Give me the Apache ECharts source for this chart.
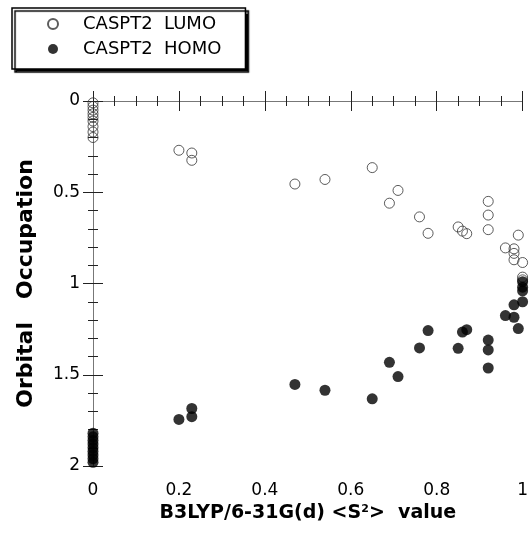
<!DOCTYPE html>
<html><head><meta charset="utf-8">
<script src="https://cdn.jsdelivr.net/npm/echarts@6/dist/echarts.min.js"></script>
<style>html,body{margin:0;padding:0;background:#fff}#c{width:531px;height:536px}</style>
</head><body><div id="c"></div>
<script>
// Data
const lumoX = [0,0,0,0,0,0,0,0,0, 0.20,0.23,0.23,0.47,0.54,0.65,0.69,0.71,0.76,0.78,0.85,0.86,0.87,0.92,0.92,0.92,0.96,0.98,0.98,0.98,0.99,1.0,1.0,1.0];
const lumoY = [0.01,0.03,0.05,0.07,0.09,0.11,0.14,0.17,0.20, 0.27,0.285,0.325,0.455,0.43,0.365,0.56,0.49,0.635,0.725,0.69,0.713,0.727,0.55,0.625,0.705,0.805,0.81,0.835,0.87,0.735,0.885,0.965,0.98];
const homoX = [0,0,0,0,0,0,0,0,0, 0.20,0.23,0.23,0.47,0.54,0.65,0.69,0.71,0.76,0.78,0.85,0.86,0.87,0.92,0.92,0.92,0.96,0.98,0.98,0.99,1.0,1.0,1.0,1.0];
const homoY = [1.82,1.84,1.86,1.88,1.90,1.92,1.94,1.96,1.98, 1.745,1.685,1.73,1.553,1.585,1.632,1.432,1.51,1.353,1.258,1.355,1.266,1.253,1.31,1.364,1.463,1.176,1.117,1.185,1.247,1.10,0.99,1.02,1.04];
const seriesNames = ['CASPT2  LUMO', 'CASPT2  HOMO'];
const xTitle = 'B3LYP/6-31G(d) <S{sup|2}>  value';
const yTitle = 'Orbital   Occupation';

const pairs = (xs, ys) => xs.map((x, i) => [x, ys[i]]);
const FONT = 'DejaVu Sans';

// ticks pointing into the plot area
function tick() { return {show: true, inside: true, length: 10, lineStyle: {color: '#222', width: 1}}; }
function minor(n) { return {show: true, splitNumber: n, length: 5, lineStyle: {color: '#222', width: 1}}; }

const chart = echarts.init(document.getElementById('c'), null, {renderer: 'canvas'});
chart.setOption({
  animation: false,
  backgroundColor: '#fff',
  grid: {left: 93, right: 8, top: 101, bottom: 70},
  legend: {
    orient: 'vertical', left: 12, top: 8,
    data: seriesNames,
    itemWidth: 10, itemHeight: 10, itemGap: 5,
    padding: [6, 24, 10, 35],
    borderColor: '#000', borderWidth: 1.5, backgroundColor: '#fff',
    shadowColor: '#000', shadowOffsetX: 3, shadowOffsetY: 3, shadowBlur: 1,
    textStyle: {fontFamily: FONT, fontSize: 18, color: '#000', lineHeight: 20, padding: [0, 0, 0, 20]}
  },
  xAxis: [{
    type: 'value', min: 0, max: 1, interval: 0.2, position: 'bottom',
    axisLine: {lineStyle: {color: '#111', width: 1}},
    axisTick: tick(), minorTick: minor(4),
    splitLine: {show: false},
    axisLabel: {fontFamily: FONT, fontSize: 17, color: '#000', margin: 16},
    name: xTitle, nameLocation: 'middle', nameGap: 36,
    nameTextStyle: {fontFamily: FONT, fontSize: 19, fontWeight: 'bold', color: '#000',
      rich: {sup: {fontFamily: FONT, fontSize: 11, fontWeight: 'bold', verticalAlign: 'top', padding: [0,0,8,0]}}}
  }, {
    type: 'value', min: 0, max: 1, interval: 0.2, position: 'top',
    axisLine: {lineStyle: {color: '#777', width: 1}},
    axisTick: tick(), minorTick: minor(4),
    splitLine: {show: false}, axisLabel: {show: false}
  }],
  yAxis: [{
    type: 'value', min: 0, max: 2, interval: 0.5, inverse: true, position: 'left',
    axisLine: {lineStyle: {color: '#111', width: 1}},
    axisTick: tick(), minorTick: minor(5),
    splitLine: {show: false},
    axisLabel: {fontFamily: FONT, fontSize: 17, color: '#000', margin: 13},
    name: yTitle, nameLocation: 'middle', nameGap: 56,
    nameTextStyle: {fontFamily: FONT, fontSize: 22, fontWeight: 'bold', color: '#000'}
  }, {
    type: 'value', min: 0, max: 2, interval: 0.5, inverse: true, position: 'right',
    axisLine: {lineStyle: {color: '#777', width: 1}},
    axisTick: tick(), minorTick: minor(5),
    splitLine: {show: false}, axisLabel: {show: false}
  }],
  series: [{
    name: seriesNames[0], type: 'scatter', xAxisIndex: 0, yAxisIndex: 0,
    symbol: 'circle', symbolSize: 10,
    itemStyle: {color: 'rgba(255,255,255,0)', borderColor: '#333', borderWidth: 1},
    data: pairs(lumoX, lumoY), z: 3
  }, {
    name: seriesNames[1], type: 'scatter', xAxisIndex: 0, yAxisIndex: 0,
    symbol: 'circle', symbolSize: 11,
    itemStyle: {color: '#000'},
    data: pairs(homoX, homoY), z: 4
  }]
});
</script></body></html>
